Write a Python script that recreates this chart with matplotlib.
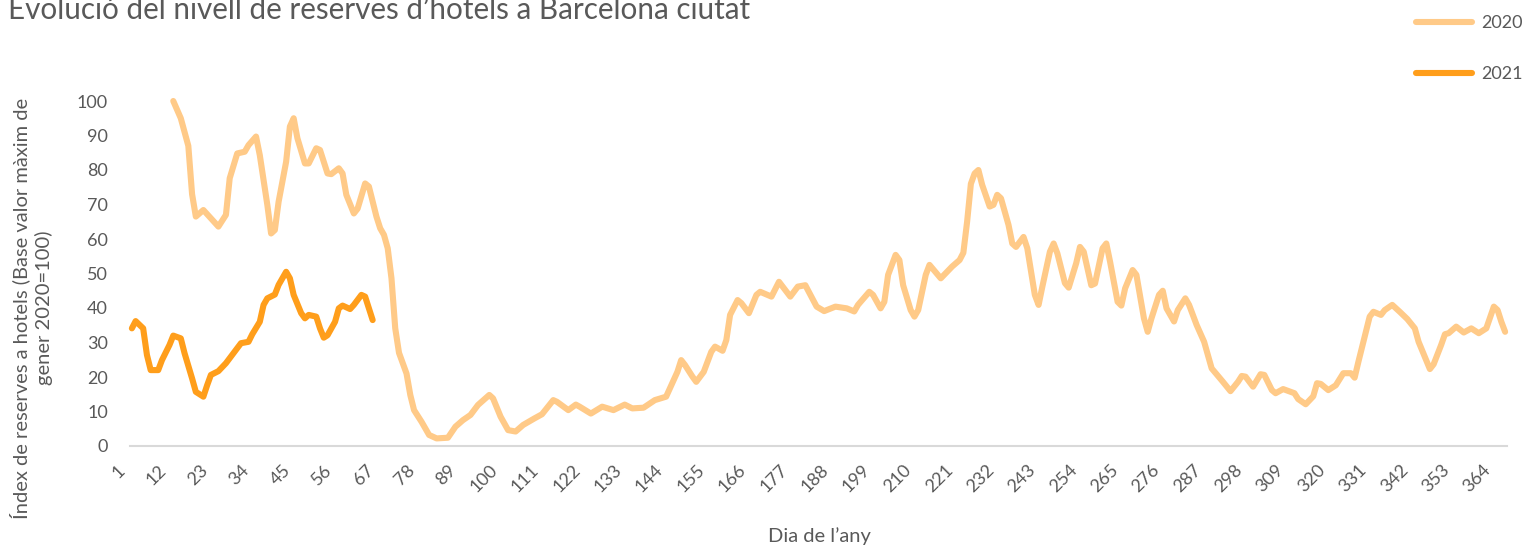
import matplotlib
matplotlib.use("Agg")
import matplotlib.pyplot as plt
import matplotlib.transforms as mtransforms
from matplotlib.lines import Line2D

plt.rcParams['font.family'] = ['Lato', 'DejaVu Sans']

title = "Evolució del nivell de reserves d’hotels a Barcelona ciutat"
ylabel = "Índex de reserves a hotels (Base valor màxim de\ngener 2020=100)"
xlabel = "Dia de l’any"

days_2020 = [12, 14, 16, 17, 18, 20, 24, 26, 27, 29, 31, 32, 34, 35, 37, 38, 39, 40, 42, 43,
             44, 45, 47, 48, 50, 51, 53, 54, 56, 57, 58, 60, 61, 63, 64, 66, 67, 68, 69, 70,
             71, 72, 74, 75, 76, 78, 80, 82, 85, 87, 89, 91, 93, 96, 97, 99, 101, 103, 105, 108,
             110, 112, 113, 114, 117, 119, 120, 123, 126, 129, 132, 134, 137, 140, 143, 144, 146, 147, 148, 150,
             151, 153, 155, 156, 158, 159, 160, 162, 163, 165, 167, 168, 171, 173, 176, 178, 180, 183, 185, 188,
             191, 193, 194, 197, 198, 200, 201, 202, 204, 205, 206, 208, 209, 210, 212, 213, 216, 219, 221, 222,
             223, 224, 225, 226, 227, 229, 230, 231, 232, 234, 235, 236, 238, 239, 241, 242, 243, 245, 246, 247,
             249, 250, 252, 253, 254, 256, 257, 259, 260, 261, 263, 264, 265, 267, 268, 270, 271, 272, 274, 275,
             276, 278, 279, 281, 282, 284, 286, 288, 291, 293, 295, 296, 297, 299, 301, 302, 304, 305, 307, 310,
             311, 313, 315, 316, 317, 319, 321, 323, 325, 326, 327, 329, 330, 331, 333, 334, 336, 338, 340, 342,
             343, 345, 346, 347, 349, 350, 351, 353, 355, 357, 359, 361, 363, 364, 365, 366]
values_2020 = [100, 95, 87, 73, 66.5, 68.4, 63.6, 67, 77.6, 84.8, 85.3, 87.2, 89.7, 84.3, 69.9, 61.6, 62.6, 70.8, 82.4, 92.6,
               95, 89.2, 81.9, 81.9, 86.3, 85.8, 79, 78.8, 80.5, 79, 72.8, 67.4, 68.8, 76.1, 75.2, 66.5, 63.1, 61.2, 57.3, 48.6,
               34.1, 27, 21, 14.8, 10.4, 7, 3.2, 2.2, 2.4, 5.6, 7.5, 9, 11.9, 14.8, 13.8, 8.5, 4.6, 4.2, 6.1, 8,
               9.2, 11.9, 13.3, 12.8, 10.4, 12, 11.4, 9.4, 11.4, 10.4, 12, 10.9, 11.1, 13.3, 14.3, 16.7, 21.5, 24.9, 23.5, 20.1,
               18.6, 21.5, 27.3, 28.8, 27.6, 30.7, 38, 42.3, 41.4, 38.5, 43.8, 44.7, 43.3, 47.6, 43.3, 46.2, 46.6, 40.4, 39.1, 40.4,
               39.9, 39, 40.9, 44.7, 43.8, 39.9, 41.8, 49.6, 55.4, 53.9, 46.6, 39.4, 37.5, 39.4, 49.6, 52.5, 48.6, 52, 53.9, 56,
               65, 76, 79, 80, 75.7, 69.4, 69.9, 72.8, 71.8, 64.1, 58.7, 57.7, 60.6, 57.3, 43.8, 40.9, 46.2, 56.3, 58.7, 55.8,
               47.2, 45.9, 53, 57.7, 56.3, 46.6, 47.1, 57.3, 58.7, 53.4, 41.8, 40.7, 45.7, 51, 49.6, 37, 33.1, 37, 43.8, 45,
               39.9, 36.1, 39.4, 42.8, 40.9, 35.1, 30.2, 22.5, 18.6, 15.9, 18.6, 20.3, 20.1, 17.2, 20.8, 20.6, 16.2, 15.3, 16.5, 15.3,
               13.6, 12.1, 14.4, 18.2, 18, 16.2, 17.6, 21.1, 21.1, 19.8, 24.4, 33.1, 37.5, 38.9, 38, 39.4, 40.9, 38.9, 36.8, 34.1,
               30.2, 24.9, 22.3, 23.7, 29.3, 32.4, 32.7, 34.6, 32.9, 34.1, 32.7, 34.1, 40.4, 39.4, 36, 33.1]

days_2021 = [1, 2, 4, 5, 6, 8, 9, 11, 12, 14, 15, 17, 18, 20, 21, 22, 24, 26, 28, 30,
             32, 33, 35, 36, 37, 39, 40, 42, 43, 44, 46, 47, 48, 50, 51, 52, 53, 55, 56, 57,
             59, 60, 62, 63, 65]
values_2021 = [34.1, 36.2, 34.1, 26.4, 22, 22, 24.9, 29.3, 32, 31.2, 26.9, 19.6, 15.7, 14.3, 17.6, 20.6, 21.7, 24, 26.9, 29.8,
               30.2, 32.4, 36, 40.9, 42.8, 43.9, 46.7, 50.5, 48.6, 43.8, 38.5, 37, 38, 37.5, 34.1, 31.4, 32.1, 36, 39.9, 40.7,
               39.7, 40.9, 43.8, 43.3, 36.5]

tick_days = list(range(1, 366, 11))
tick_labels = [str(d) for d in tick_days]
yticks = list(range(0, 101, 10))

c2020 = '#FFCA88'
c2021 = '#FF9E1B'
gray = '#595959'

fig = plt.figure(figsize=(15.29, 5.45), dpi=100)
ax = fig.add_axes([130 / 1529, 1 - 446 / 545, (1507 - 130) / 1529, (446 - 101) / 545])

ax.plot(days_2020, values_2020, color=c2020, lw=4.4, solid_joinstyle='round',
        solid_capstyle='round', clip_on=False, zorder=2)
ax.plot(days_2021, values_2021, color=c2021, lw=4.4, solid_joinstyle='round',
        solid_capstyle='round', clip_on=False, zorder=3)

ax.set_xlim(0.5, 366.5)
ax.set_ylim(0, 100)
ax.set_xticks(tick_days)
ax.set_xticklabels([])
# rotated category labels, anchored slightly left of and below each tick
lab_trans = ax.get_xaxis_transform() + mtransforms.ScaledTranslation(-15 / 100, -16 / 100, fig.dpi_scale_trans)
for d, s in zip(tick_days, tick_labels):
    ax.text(d, 0, s, transform=lab_trans, rotation=45, ha='right', va='top',
            rotation_mode='anchor', fontsize=13, color=gray, clip_on=False)
ax.set_yticks(yticks)
ax.set_yticklabels([str(v) for v in yticks], fontsize=13, color=gray)
ax.tick_params(axis='both', length=0)
ax.tick_params(axis='y', pad=16)
for s in ['top', 'right', 'left']:
    ax.spines[s].set_visible(False)
ax.spines['bottom'].set_color('#D9D9D9')
ax.spines['bottom'].set_linewidth(1.5)

fig.text(0.005, 1 - 19 / 545, title, fontsize=21.3, color=gray, va='baseline', ha='left')
fig.text(819 / 1529, 1 - 536 / 545, xlabel, fontsize=14.5, color=gray, ha='center', va='center')
fig.text(31 / 1529, 1 - 308 / 545, ylabel, fontsize=14.5, color=gray, rotation=90,
         ha='center', va='center', multialignment='center', linespacing=1.3)

handles = [Line2D([0], [0], color=c2020, lw=4.4, solid_capstyle='round'),
           Line2D([0], [0], color=c2021, lw=4.4, solid_capstyle='round')]
leg = fig.legend(handles, ['2020', '2021'], loc='upper right', bbox_to_anchor=(1 - 6 / 1529, 1 - 15 / 545),
                 frameon=False, fontsize=13, handlelength=3.1, handletextpad=0.55,
                 labelspacing=1.95, borderpad=0, borderaxespad=0)
for t in leg.get_texts():
    t.set_color(gray)

fig.savefig('out.png', dpi=100)
